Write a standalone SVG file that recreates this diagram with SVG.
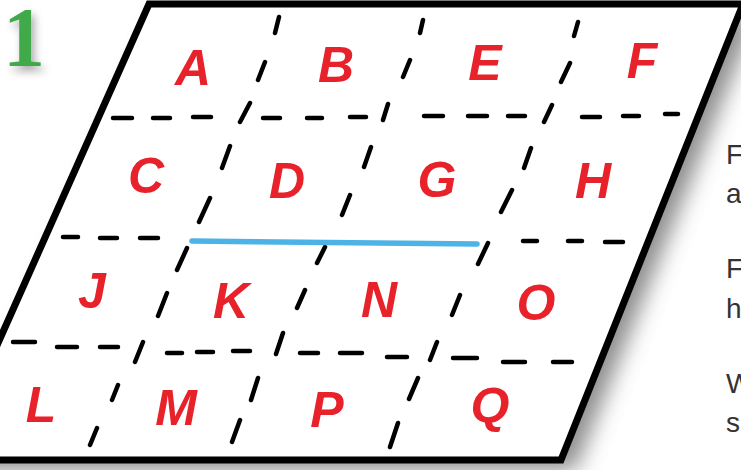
<svg xmlns="http://www.w3.org/2000/svg" width="741" height="470" viewBox="0 0 741 470">
<style>
.let{font-family:"Liberation Sans",Arial,sans-serif;font-weight:bold;font-style:italic;font-size:50px;fill:#e8222a;text-anchor:middle}
.side{font-family:"Liberation Sans",Arial,sans-serif;font-size:28px;fill:#333}
.dash{fill:none;stroke:#000;stroke-width:4.5;stroke-linecap:round}
</style>
<defs>
<filter id="sh" x="-20%" y="-20%" width="140%" height="140%"><feGaussianBlur stdDeviation="11"/></filter>
<filter id="ds" x="-50%" y="-50%" width="200%" height="200%"><feDropShadow dx="3" dy="5" stdDeviation="4" flood-color="#000" flood-opacity="0.35"/></filter>
</defs>
<rect width="741" height="470" fill="#fff"/>
<g id="green-number">
<text x="24" y="66" font-family="Liberation Serif,Times New Roman,serif" font-weight="bold" font-size="84" fill="#3fa94a" text-anchor="middle" filter="url(#ds)">1</text>
</g>
<g id="board">
<polygon points="163,14 757,14 575,470 -40,470" fill="#6f6f6f" filter="url(#sh)" opacity="0.8"/>
<polygon points="149,4 743,4 561,460 -54,460" fill="#fff" stroke="#000" stroke-width="7" stroke-linejoin="miter"/>
</g>
<g id="grid">
<path class="dash" d="M113 118H132M153 118H170M193 117H211M263 118H280M307 118H322M350 117H366M424 116H443M468 116H487M508 116H525M582 117H600M623 116H639M665 114H678"/>
<path class="dash" d="M63 237H78M100 238H117M140 238H158M523 241H537M568 241H582M605 242H623"/>
<path class="dash" d="M13 342H35M57 347H77M100 347H118M167 353H182M197 352H213M233 351H250M300 353H318M340 353H362M387 357H407M453 358H477M503 362H525M553 362H572"/>
<path class="dash" d="M279 17L275 33M265 62L258 80M250 103L240 122M230 146L222 168M210 198L199 222M187 248L177 270M167 293L158 316M143 342L135 362M118 385L112 400M97 428L90 445"/>
<path class="dash" d="M423 20L420 33M410 60L403 77M388 104L383 120M371 147L364 167M350 195L342 215M325 247L317 263M305 290L297 308M283 333L276 354M258 378L251 400M240 420L232 442"/>
<path class="dash" d="M578 22L574 36M570 63L561 82M552 105L544 122M531 148L524 168M512 190L501 212M488 243L478 264M460 295L452 315M437 342L430 360M418 378L409 399M398 423L390 447"/>
</g>
<g id="connectors">
<path d="M192 241L477 244" fill="none" stroke="#4db3e6" stroke-width="5.5" stroke-linecap="round"/>
</g>
<g id="node-A"><text class="let" x="193" y="85">A</text></g>
<g id="node-B"><text class="let" x="336" y="82">B</text></g>
<g id="node-E"><text class="let" x="485" y="80">E</text></g>
<g id="node-F"><text class="let" x="642" y="78">F</text></g>
<g id="node-C"><text class="let" x="146" y="193">C</text></g>
<g id="node-D"><text class="let" x="287" y="198">D</text></g>
<g id="node-G"><text class="let" x="437" y="197">G</text></g>
<g id="node-H"><text class="let" x="593" y="198">H</text></g>
<g id="node-J"><text class="let" x="92" y="308">J</text></g>
<g id="node-K"><text class="let" x="231" y="318">K</text></g>
<g id="node-N"><text class="let" x="379" y="317">N</text></g>
<g id="node-O"><text class="let" x="536" y="320">O</text></g>
<g id="node-L"><text class="let" x="41" y="422">L</text></g>
<g id="node-M"><text class="let" x="176" y="425">M</text></g>
<g id="node-P"><text class="let" x="327" y="427">P</text></g>
<g id="node-Q"><text class="let" x="490" y="423">Q</text></g>
<g id="side-text">
<text class="side" x="726" y="164">F</text>
<text class="side" x="726" y="203">a</text>
<text class="side" x="726" y="278">F</text>
<text class="side" x="726" y="318">h</text>
<text class="side" x="726" y="393">W</text>
<text class="side" x="726" y="432">s</text>
</g>
</svg>
